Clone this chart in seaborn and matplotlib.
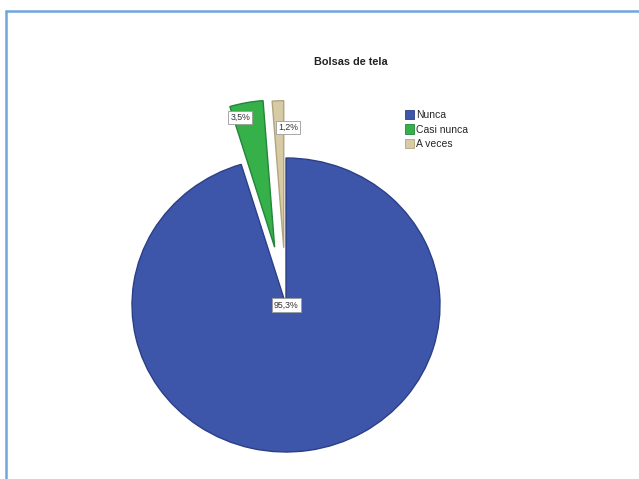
import matplotlib
matplotlib.use("Agg")
import matplotlib.pyplot as plt
import matplotlib.patches as mpatches
from matplotlib.lines import Line2D
import numpy as np
import seaborn as sns

# Survey answers for "Bolsas de tela" (percent of respondents)
categories = ["Nunca", "Casi nunca", "A veces"]
percentages = [95.3, 3.5, 1.2]
value_labels = ["95,3%", "3,5%", "1,2%"]
title = "Bolsas de tela"

colors = ["#3E56A9", "#36B14A", "#D6CBA4"]
edge_colors = ["#2B3F86", "#23853A", "#B3A47E"]
explode = [0.0, 0.40, 0.39]

sns.set_theme(style="white")
plt.rcParams["font.family"] = ["Liberation Sans", "DejaVu Sans"]

W, H = 639, 479
fig = plt.figure(figsize=(W / 100, H / 100), dpi=100)
fig.patch.set_facecolor("white")

# pie axes spans the whole figure; data units are scaled so the pie sits where wanted
cx, cy = 286, 305        # pie centre in pixels from the top-left corner
rx, ry = 154, 147        # horizontal / vertical radius in pixels
ax = fig.add_axes([0, 0, 1, 1])

wedges, _ = ax.pie(
    percentages,
    colors=colors,
    startangle=90,
    counterclock=False,
    explode=explode,
    radius=1.0,
    wedgeprops=dict(linewidth=1.0),
)
for w, ec in zip(wedges, edge_colors):
    w.set_edgecolor(ec)

ax.set_aspect("auto")
ax.set_xlim(-cx / rx, (W - cx) / rx)
ax.set_ylim(-(H - cy) / ry, cy / ry)
ax.axis("off")

# percentage boxes placed relative to each slice
label_dist = [0.0, 0.91, 0.82]
label_turn = [0.0, 3.6, -4.0]
for w, txt, d, turn in zip(wedges, value_labels, label_dist, label_turn):
    mid = np.deg2rad((w.theta1 + w.theta2) / 2 + turn)
    x = w.center[0] + d * np.cos(mid)
    y = w.center[1] + d * np.sin(mid)
    ax.text(x, y, txt, ha="center", va="center", fontsize=6.3, color="#333333",
            bbox=dict(boxstyle="square,pad=0.25", fc="white", ec="#9a9a9a", lw=0.6))

fig.text(351 / W, 1 - 62 / H, title, ha="center", va="center",
         fontsize=7.8, fontweight="bold", color="#222222")

handles = [mpatches.Patch(facecolor=c, edgecolor=ec, lw=0.6, label=lab)
           for c, ec, lab in zip(colors, edge_colors, categories)]
fig.legend(handles=handles, loc="upper left", bbox_to_anchor=(405 / W, 1 - 110 / H),
           frameon=False, fontsize=7.5, handlelength=0.9, handleheight=1.0,
           handletextpad=0.2, labelspacing=0.4, borderaxespad=0, borderpad=0)

# light blue frame along the top and left edge
frame_color = "#6FA6DD"
fig.add_artist(Line2D([6 / W, 1], [1 - 11 / H, 1 - 11 / H], transform=fig.transFigure,
                      color=frame_color, lw=1.8))
fig.add_artist(Line2D([6 / W, 6 / W], [0, 1 - 11 / H], transform=fig.transFigure,
                      color=frame_color, lw=1.8))

fig.savefig("out.png", dpi=100, facecolor="white")
